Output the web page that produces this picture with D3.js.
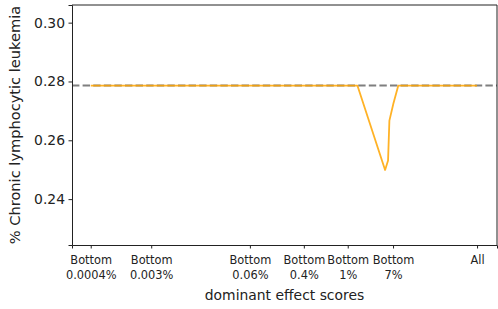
<!DOCTYPE html>
<html><head><meta charset="utf-8">
<script src="https://cdn.jsdelivr.net/npm/d3@7"></script>
<style>body{margin:0;background:#fff}text{font-family:"DejaVu Sans",sans-serif;fill:#222}</style>
</head><body><svg id="c" width="498" height="309"></svg>
<script>
// data (x = percent of variants, log scale)
const pctX   = [0.0004, 0.0028, 0.067, 0.38, 1.56, 2.13, 5.19, 5.71, 5.96, 6.78, 7.94, 100];
const values = [0.2786, 0.2786, 0.2786, 0.2786, 0.2786, 0.2786, 0.2499, 0.2531, 0.2667, 0.2725, 0.2786, 0.2786];
const baseline = 0.2786;
const xTickVals = [0.0004, 0.0028, 0.067, 0.38, 1.56, 6.7, 100];
const xTickLabels = [["Bottom","0.0004%"],["Bottom","0.003%"],["Bottom","0.06%"],["Bottom","0.4%"],["Bottom","1%"],["Bottom","7%"],["All"]];
const yTicks = [0.24, 0.26, 0.28, 0.30];

const svg = d3.select("#c");
const L=72, R=497, T=5, B=245;
const x = d3.scaleLog().domain([0.000219, 190]).range([L, R]);
const y = d3.scaleLinear().domain([0.2244, 0.306]).range([B, T]);

// baseline dashed
svg.append("line").attr("x1",L).attr("x2",R).attr("y1",y(baseline)).attr("y2",y(baseline))
  .attr("stroke","#7f7f7f").attr("stroke-width",2).attr("stroke-dasharray","7.4,3.2");
// data line
const line = d3.line().x((d,i)=>x(pctX[i])).y(d=>y(d));
svg.append("path").datum(values).attr("d",line).attr("fill","none")
  .attr("stroke","#ffa500").attr("stroke-opacity",0.85).attr("stroke-width",1.8).attr("stroke-linejoin","round");

// axes
const yAx = svg.append("g").attr("transform",`translate(${L},0)`)
  .call(d3.axisLeft(y).tickValues(yTicks).tickFormat(d3.format(".2f")).tickSize(3.5).tickPadding(3.5));
yAx.selectAll("text").style("font-size","13.9px");
const xAx = svg.append("g").attr("transform",`translate(0,${B})`)
  .call(d3.axisBottom(x).tickValues(xTickVals).tickFormat("").tickSize(3.5));
[yAx,xAx].forEach(g=>{g.select(".domain").attr("stroke","#222").attr("stroke-width",1);g.selectAll(".tick line").attr("stroke","#222");});
xAx.selectAll(".tick").each(function(d,i){
  const t=d3.select(this).append("text").attr("text-anchor","middle").style("font-size","11.4px").attr("y",19);
  xTickLabels[i].forEach((s,j)=>t.append("tspan").attr("x",0).attr("dy",j?"15":"0").text(s));
});
// top & right spines
svg.append("line").attr("x1",L).attr("x2",R).attr("y1",T).attr("y2",T).attr("stroke","#222");
svg.append("line").attr("x1",R).attr("x2",R).attr("y1",T).attr("y2",B).attr("stroke","#222");

svg.append("text").attr("x",(L+R)/2).attr("y",300).attr("text-anchor","middle").style("font-size","13.9px").text("dominant effect scores");
svg.append("text").attr("transform",`translate(19.5,${(T+B)/2}) rotate(-90)`).attr("text-anchor","middle").style("font-size","14.6px").text("% Chronic lymphocytic leukemia");
</script></body></html>
